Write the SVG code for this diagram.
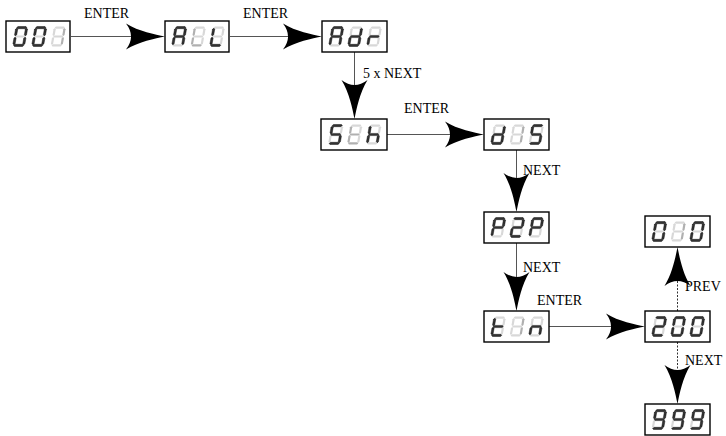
<svg xmlns="http://www.w3.org/2000/svg" xmlns:xlink="http://www.w3.org/1999/xlink" width="726" height="436" viewBox="0 0 726 436">
<style>
.box{fill:#fff;stroke:#000;stroke-width:1.4}
.on{fill:#333;stroke:#000;stroke-width:0.4}
.off{fill:#d8d8d8}
.mid{fill:#b0b0b0}
.ln{stroke:#555;stroke-width:1;fill:none}
.dot{stroke:#333;stroke-width:1;stroke-dasharray:2 1.5;fill:none}
.ah{fill:#000}
.lbl{font-family:"Liberation Serif","Times New Roman",serif;font-size:14px;fill:#000}
</style>
<defs>
<polygon id="sA" points="0.9,1.1 2,0 10,0 11.1,1.1 10,2.2 2,2.2"/>
<polygon id="sB" points="10.9,1.6 12,2.7 12,8.4 10.9,9.5 9.8,8.4 9.8,2.7"/>
<polygon id="sC" points="10.9,10.5 12,11.6 12,17.3 10.9,18.4 9.8,17.3 9.8,11.6"/>
<polygon id="sD" points="0.9,18.9 2,17.8 10,17.8 11.1,18.9 10,20 2,20"/>
<polygon id="sE" points="1.1,10.5 2.2,11.6 2.2,17.3 1.1,18.4 0,17.3 0,11.6"/>
<polygon id="sF" points="1.1,1.6 2.2,2.7 2.2,8.4 1.1,9.5 0,8.4 0,2.7"/>
<polygon id="sG" points="0.9,10 2,8.9 10,8.9 11.1,10 10,11.1 2,11.1"/>
<g id="c0" transform="translate(3.5,0) skewX(-10)"><use href="#sA" class="on"/><use href="#sB" class="on"/><use href="#sC" class="on"/><use href="#sD" class="on"/><use href="#sE" class="on"/><use href="#sF" class="on"/><use href="#sG" class="off"/></g>
<g id="c1f" transform="translate(3.5,0) skewX(-10)"><use href="#sA" class="off"/><use href="#sB" class="mid"/><use href="#sC" class="mid"/><use href="#sD" class="off"/><use href="#sE" class="off"/><use href="#sF" class="off"/><use href="#sG" class="off"/></g>
<g id="cA" transform="translate(3.5,0) skewX(-10)"><use href="#sA" class="on"/><use href="#sB" class="on"/><use href="#sC" class="on"/><use href="#sD" class="off"/><use href="#sE" class="on"/><use href="#sF" class="on"/><use href="#sG" class="on"/></g>
<g id="cL" transform="translate(3.5,0) skewX(-10)"><use href="#sA" class="off"/><use href="#sB" class="off"/><use href="#sC" class="off"/><use href="#sD" class="on"/><use href="#sE" class="on"/><use href="#sF" class="on"/><use href="#sG" class="off"/></g>
<g id="cLm" transform="translate(3.5,0) skewX(-10)"><use href="#sA" class="off"/><use href="#sB" class="off"/><use href="#sC" class="off"/><use href="#sD" class="mid"/><use href="#sE" class="mid"/><use href="#sF" class="mid"/><use href="#sG" class="off"/></g>
<g id="cd" transform="translate(3.5,0) skewX(-10)"><use href="#sA" class="off"/><use href="#sB" class="on"/><use href="#sC" class="on"/><use href="#sD" class="on"/><use href="#sE" class="on"/><use href="#sF" class="off"/><use href="#sG" class="on"/></g>
<g id="cr" transform="translate(3.5,0) skewX(-10)"><use href="#sA" class="off"/><use href="#sB" class="off"/><use href="#sC" class="off"/><use href="#sD" class="off"/><use href="#sE" class="on"/><use href="#sF" class="off"/><use href="#sG" class="on"/></g>
<g id="cS" transform="translate(3.5,0) skewX(-10)"><use href="#sA" class="on"/><use href="#sB" class="off"/><use href="#sC" class="on"/><use href="#sD" class="on"/><use href="#sE" class="off"/><use href="#sF" class="on"/><use href="#sG" class="on"/></g>
<g id="ct" transform="translate(3.5,0) skewX(-10)"><use href="#sA" class="off"/><use href="#sB" class="off"/><use href="#sC" class="off"/><use href="#sD" class="on"/><use href="#sE" class="on"/><use href="#sF" class="on"/><use href="#sG" class="on"/></g>
<g id="ctm" transform="translate(3.5,0) skewX(-10)"><use href="#sA" class="off"/><use href="#sB" class="off"/><use href="#sC" class="off"/><use href="#sD" class="mid"/><use href="#sE" class="mid"/><use href="#sF" class="mid"/><use href="#sG" class="mid"/></g>
<g id="ch" transform="translate(3.5,0) skewX(-10)"><use href="#sA" class="off"/><use href="#sB" class="off"/><use href="#sC" class="on"/><use href="#sD" class="off"/><use href="#sE" class="on"/><use href="#sF" class="on"/><use href="#sG" class="on"/></g>
<g id="cP" transform="translate(3.5,0) skewX(-10)"><use href="#sA" class="on"/><use href="#sB" class="on"/><use href="#sC" class="off"/><use href="#sD" class="off"/><use href="#sE" class="on"/><use href="#sF" class="on"/><use href="#sG" class="on"/></g>
<g id="c2" transform="translate(3.5,0) skewX(-10)"><use href="#sA" class="on"/><use href="#sB" class="on"/><use href="#sC" class="off"/><use href="#sD" class="on"/><use href="#sE" class="on"/><use href="#sF" class="off"/><use href="#sG" class="on"/></g>
<g id="cn" transform="translate(3.5,0) skewX(-10)"><use href="#sA" class="off"/><use href="#sB" class="off"/><use href="#sC" class="on"/><use href="#sD" class="off"/><use href="#sE" class="on"/><use href="#sF" class="off"/><use href="#sG" class="on"/></g>
<g id="c9" transform="translate(3.5,0) skewX(-10)"><use href="#sA" class="on"/><use href="#sB" class="on"/><use href="#sC" class="on"/><use href="#sD" class="on"/><use href="#sE" class="off"/><use href="#sF" class="on"/><use href="#sG" class="on"/></g>
<path id="ah" class="ah" d="M0,0 C-10,-2 -26,-5 -39,-13 Q-29,0 -39,13 C-26,5 -10,2 0,0Z"/>
</defs>

<g id="connectors">
<line class="ln" x1="71" y1="36.5" x2="140" y2="36.5"/>
<use href="#ah" transform="translate(165,36.5)"/>
<text class="lbl" x="84" y="18">ENTER</text>

<line class="ln" x1="230" y1="36.5" x2="296" y2="36.5"/>
<use href="#ah" transform="translate(322,36.5)"/>
<text class="lbl" x="243" y="18">ENTER</text>

<line class="ln" x1="354.5" y1="52" x2="354.5" y2="92"/>
<use href="#ah" transform="translate(354.5,119) rotate(90)"/>
<text class="lbl" x="363" y="78">5 x NEXT</text>

<line class="ln" x1="387" y1="134.5" x2="460" y2="134.5"/>
<use href="#ah" transform="translate(484,134.5)"/>
<text class="lbl" x="404" y="113">ENTER</text>

<line class="ln" x1="516.5" y1="150" x2="516.5" y2="186"/>
<use href="#ah" transform="translate(516.5,212) rotate(90)"/>
<text class="lbl" x="523" y="175">NEXT</text>

<line class="ln" x1="516.5" y1="243" x2="516.5" y2="285"/>
<use href="#ah" transform="translate(516.5,311) rotate(90)"/>
<text class="lbl" x="523" y="272">NEXT</text>

<line class="ln" x1="549" y1="326.5" x2="620" y2="326.5"/>
<use href="#ah" transform="translate(645,326.5)"/>
<text class="lbl" x="537" y="305">ENTER</text>

<line class="dot" x1="677.5" y1="311" x2="677.5" y2="272"/>
<use href="#ah" transform="translate(677.5,247) rotate(-90)"/>
<text class="lbl" x="685" y="291">PREV</text>

<line class="dot" x1="677.5" y1="342" x2="677.5" y2="380"/>
<use href="#ah" transform="translate(677.5,404) rotate(90)"/>
<text class="lbl" x="685" y="365">NEXT</text>
</g>

<g id="n001"><rect class="box" x="6" y="21" width="64" height="31"/><use href="#c0" x="12.5" y="26.5"/><use href="#c0" x="31.5" y="26.5"/><use href="#c1f" x="50.5" y="26.5"/></g>
<g id="nALL"><rect class="box" x="165" y="21" width="64" height="31"/><use href="#cA" x="171.5" y="26.5"/><use href="#cLm" x="190.5" y="26.5"/><use href="#cL" x="209.5" y="26.5"/></g>
<g id="nAdr"><rect class="box" x="322" y="21" width="65" height="31"/><use href="#cA" x="328.5" y="26.5"/><use href="#cd" x="347.5" y="26.5"/><use href="#cr" x="366.5" y="26.5"/></g>
<g id="nSth"><rect class="box" x="321" y="119" width="66" height="31"/><use href="#cS" x="328" y="124.5"/><use href="#ctm" x="347" y="124.5"/><use href="#ch" x="366" y="124.5"/></g>
<g id="ndIS"><rect class="box" x="484" y="119" width="65" height="31"/><use href="#cd" x="490.5" y="124.5"/><use href="#c1f" x="509.5" y="124.5"/><use href="#cS" x="528.5" y="124.5"/></g>
<g id="nP2P"><rect class="box" x="484" y="212" width="65" height="31"/><use href="#cP" x="490.5" y="217.5"/><use href="#c2" x="509.5" y="217.5"/><use href="#cP" x="528.5" y="217.5"/></g>
<g id="ntIn"><rect class="box" x="484" y="311" width="65" height="31"/><use href="#ct" x="490.5" y="316.5"/><use href="#c1f" x="509.5" y="316.5"/><use href="#cn" x="528.5" y="316.5"/></g>
<g id="n200"><rect class="box" x="645" y="311" width="65" height="31"/><use href="#c2" x="651.5" y="316.5"/><use href="#c0" x="670.5" y="316.5"/><use href="#c0" x="689.5" y="316.5"/></g>
<g id="n010"><rect class="box" x="645" y="216" width="65" height="31"/><use href="#c0" x="651.5" y="221.5"/><use href="#c1f" x="670.5" y="221.5"/><use href="#c0" x="689.5" y="221.5"/></g>
<g id="n999"><rect class="box" x="645" y="404" width="65" height="31"/><use href="#c9" x="651.5" y="409.5"/><use href="#c9" x="670.5" y="409.5"/><use href="#c9" x="689.5" y="409.5"/></g>
</svg>
